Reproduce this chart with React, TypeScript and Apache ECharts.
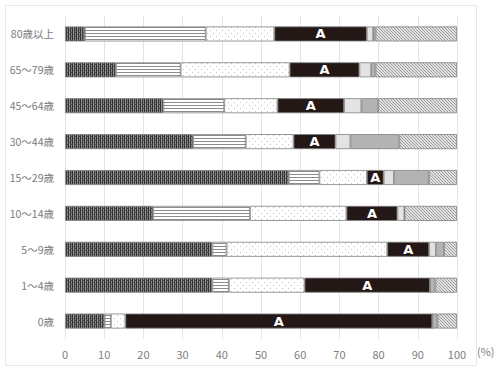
import React, { useEffect, useRef } from "react";
import * as echarts from "echarts";

const categories = ["80歳以上", "65～79歳", "45～64歳", "30～44歳", "15～29歳", "10～14歳", "5～9歳", "1～4歳", "0歳"];
const seriesNames = ["s1", "s2", "s3", "A", "s5", "s6", "s7"];
const s1 = [5.1, 13.0, 25.1, 32.7, 57.1, 22.5, 37.6, 37.6, 10.1];
const s2 = [30.8, 16.5, 15.5, 13.4, 7.8, 24.7, 3.6, 4.2, 1.6];
const s3 = [17.5, 27.8, 13.6, 12.2, 12.1, 24.6, 41.0, 19.3, 3.7];
const s4 = [23.6, 17.8, 17.0, 10.7, 4.3, 13.0, 10.7, 32.0, 78.3];
const s5 = [1.6, 3.0, 4.4, 3.8, 2.6, 1.8, 1.7, 0, 0];
const s6 = [0.6, 1.1, 4.3, 12.5, 8.9, 0, 2.1, 1.4, 1.3];
const s7 = [20.8, 20.8, 20.1, 14.7, 7.2, 13.4, 3.3, 5.5, 5.0];
const xTicks = [0, 10, 20, 30, 40, 50, 60, 70, 80, 90, 100];

function makePattern(w: number, h: number, bg: string, pixels: [number, number, string][]) {
  const c = document.createElement("canvas");
  c.width = w;
  c.height = h;
  const ctx = c.getContext("2d")!;
  ctx.fillStyle = bg;
  ctx.fillRect(0, 0, w, h);
  for (const [x, y, col] of pixels) {
    ctx.fillStyle = col;
    ctx.fillRect(x, y, 1, 1);
  }
  return { image: c, repeat: "repeat" } as any;
}

export default function App() {
  const ref = useRef<HTMLDivElement>(null);
  useEffect(() => {
    if (!ref.current) return;
    const chart = echarts.init(ref.current, null, { renderer: "svg" });

    const checkerPx: [number, number, string][] = [];
    for (let y = 0; y < 4; y++) {
      checkerPx.push([0, y, "#333"]);
      checkerPx.push([1, y, y === 2 ? "#666" : "#9a9a9a"]);
      checkerPx.push([2, y, "#3c3c3c"]);
      checkerPx.push([3, y, y === 0 ? "#555" : "#808080"]);
    }
    const checker = makePattern(4, 4, "#444", checkerPx);
    const linesPx: [number, number, string][] = [];
    for (let x = 0; x < 4; x++) linesPx.push([x, 0, "#8c8c8c"]);
    const lines = makePattern(4, 3, "#ffffff", linesPx);
    const dots = makePattern(6, 6, "#ffffff", [
      [0, 0, "#c4c4c4"],
      [3, 3, "#c4c4c4"],
    ]);
    const hatchPx: [number, number, string][] = [];
    for (let i = 0; i < 3; i++) hatchPx.push([i, i, "#9c9c9c"]);
    const hatch = makePattern(3, 3, "#e2e2e2", hatchPx);

    const fills = [checker, lines, dots, "#231815", "#e3e3e3", "#b3b3b3", hatch];
    const values = [s1, s2, s3, s4, s5, s6, s7];

    const series = values.map((vals, i) => ({
      name: seriesNames[i],
      type: "bar",
      stack: "total",
      barWidth: 15,
      data: vals,
      itemStyle: {
        color: fills[i],
        borderColor: "#808080",
        borderWidth: 0.8,
      },
      label:
        i === 3
          ? {
              show: true,
              position: "inside",
              formatter: "A",
              color: "#ffffff",
              fontSize: 13,
              fontWeight: "bold",
              fontFamily: "DejaVu Sans",
            }
          : { show: false },
    }));

    chart.setOption({
      animation: false,
      backgroundColor: "#ffffff",
      grid: { left: 65, right: 42, top: 16, bottom: 31, containLabel: false },
      xAxis: {
        type: "value",
        min: 0,
        max: 100,
        interval: 10,
        axisLine: { show: false },
        axisTick: { show: false },
        splitLine: { show: true, lineStyle: { color: "#e4e4e4", width: 1 } },
        axisLabel: {
          color: "#808080",
          fontSize: 11,
          margin: 9,
          fontFamily: "Noto Sans CJK JP",
          formatter: (v: number) => (xTicks.includes(v) ? String(v) : ""),
        },
      },
      yAxis: {
        type: "category",
        data: categories,
        inverse: true,
        axisLine: { show: false },
        axisTick: { show: false },
        axisLabel: { color: "#7a7a7a", fontSize: 10.5, margin: 11, fontFamily: "Noto Sans CJK JP" },
      },
      graphic: [
        {
          type: "rect",
          shape: { x: 5.5, y: 5.5, width: 471, height: 360 },
          style: { fill: "none", stroke: "#e8e8e8", lineWidth: 1 },
          silent: true,
        },
        {
          type: "text",
          x: 477,
          y: 345,
          style: { text: "(%)", fill: "#808080", fontSize: 11, fontFamily: "Noto Sans CJK JP" },
        },
      ],
      series,
    });
    return () => chart.dispose();
  }, []);
  return <div ref={ref} style={{ width: 499, height: 370, position: "absolute", left: 0, top: 0 }} />;
}
